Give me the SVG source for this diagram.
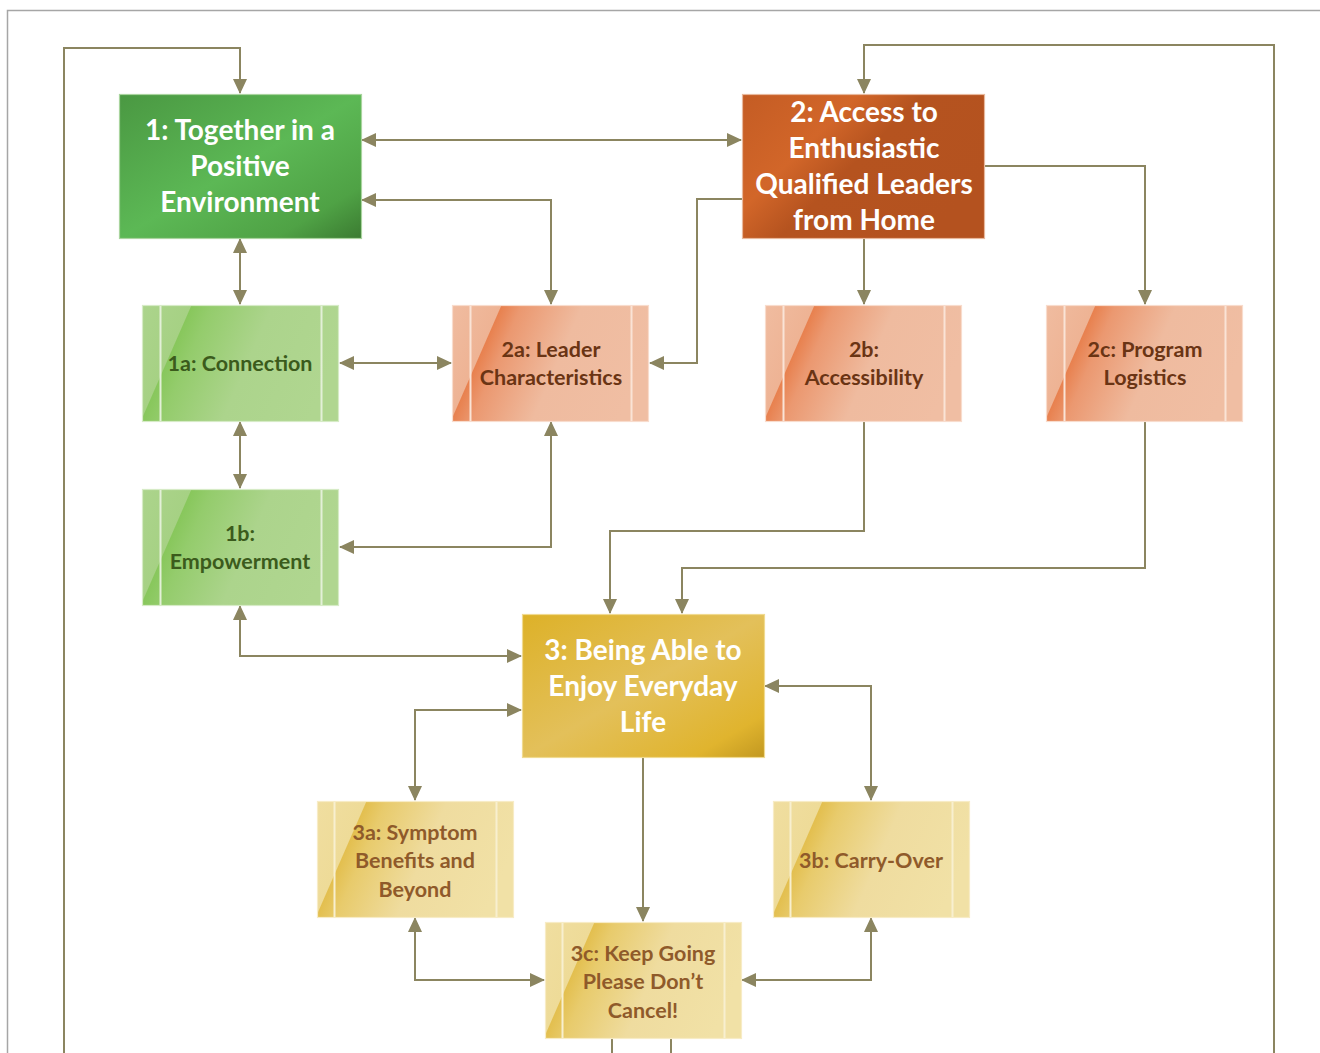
<svg xmlns="http://www.w3.org/2000/svg" width="1320" height="1053" viewBox="0 0 1320 1053">
<defs>
<linearGradient id="gGreen" x1="0" y1="0" x2="1" y2="1">
<stop offset="0" stop-color="#4a9842"/><stop offset="0.5" stop-color="#5cb855"/><stop offset="0.82" stop-color="#4fa245"/><stop offset="1" stop-color="#3b7b31"/>
</linearGradient>
<linearGradient id="gOrange" x1="0" y1="0" x2="1" y2="0.6">
<stop offset="0" stop-color="#c45c24"/><stop offset="0.35" stop-color="#d26629"/><stop offset="0.55" stop-color="#b5531f"/><stop offset="1" stop-color="#b4521f"/>
</linearGradient>
<linearGradient id="gGold" x1="0" y1="0" x2="1" y2="1">
<stop offset="0" stop-color="#ddb128"/><stop offset="0.5" stop-color="#e3c05a"/><stop offset="0.85" stop-color="#e0b42e"/><stop offset="1" stop-color="#c29820"/>
</linearGradient>
<linearGradient id="gLGreen" gradientUnits="userSpaceOnUse" x1="0" y1="0" x2="183" y2="80">
<stop offset="0" stop-color="#acd48c"/><stop offset="0.225" stop-color="#a6d184"/><stop offset="0.23" stop-color="#88c75c"/><stop offset="0.32" stop-color="#94cc6c"/><stop offset="0.6" stop-color="#acd48c"/><stop offset="1" stop-color="#b0d690"/>
</linearGradient>
<linearGradient id="gSalmon" gradientUnits="userSpaceOnUse" x1="0" y1="0" x2="183" y2="80">
<stop offset="0" stop-color="#f0bca0"/><stop offset="0.225" stop-color="#eeb394"/><stop offset="0.23" stop-color="#e8814f"/><stop offset="0.32" stop-color="#eb9870"/><stop offset="0.6" stop-color="#efbb9f"/><stop offset="1" stop-color="#f0bea3"/>
</linearGradient>
<linearGradient id="gYellow" gradientUnits="userSpaceOnUse" x1="0" y1="0" x2="183" y2="80">
<stop offset="0" stop-color="#f0dea0"/><stop offset="0.225" stop-color="#eedb98"/><stop offset="0.23" stop-color="#e3bf4f"/><stop offset="0.32" stop-color="#e8cb6c"/><stop offset="0.6" stop-color="#efdc9f"/><stop offset="1" stop-color="#f1e1a6"/>
</linearGradient>
<marker id="ah" markerUnits="userSpaceOnUse" markerWidth="16" markerHeight="14" refX="14" refY="7" orient="auto-start-reverse" viewBox="0 0 16 14">
<path d="M0,0 L15,7 L0,14 Z" fill="#8b8560"/>
</marker>
</defs>
<style>
.big{font-family:"Lato","Liberation Sans",sans-serif;font-weight:bold;font-size:28px;fill:#ffffff;text-anchor:middle}
.sm{font-family:"Lato","Liberation Sans",sans-serif;font-weight:bold;font-size:21.5px;text-anchor:middle}
.tg{fill:#3b5b1c}.to{fill:#6a3414}.ty{fill:#8f5a2a}
.bb{stroke-width:1.2}
.side{fill:none;stroke-width:2}
.c{fill:none;stroke:#8b8560;stroke-width:2}
</style>
<rect width="1320" height="1053" fill="#ffffff"/>
<path d="M7.5,1053 V10.5 H1320" fill="none" stroke="#a6a6a6" stroke-width="1.5"/>
<g id="connectors">
<path class="c" d="M64,1053 V48 H240 V93" marker-end="url(#ah)"/>
<path class="c" d="M1274,1053 V45 H864 V93" marker-end="url(#ah)"/>
<path class="c" d="M612,1038 V1053"/>
<path class="c" d="M671,1038 V1053"/>
<path class="c" d="M362,140 H741" marker-start="url(#ah)" marker-end="url(#ah)"/>
<path class="c" d="M362,200 H551 V304" marker-start="url(#ah)" marker-end="url(#ah)"/>
<path class="c" d="M742,199 H697 V363 H650" marker-end="url(#ah)"/>
<path class="c" d="M864,238 V304" marker-end="url(#ah)"/>
<path class="c" d="M985,166 H1145 V304" marker-end="url(#ah)"/>
<path class="c" d="M240,239 V304" marker-start="url(#ah)" marker-end="url(#ah)"/>
<path class="c" d="M340,363 H451" marker-start="url(#ah)" marker-end="url(#ah)"/>
<path class="c" d="M240,422 V488" marker-start="url(#ah)" marker-end="url(#ah)"/>
<path class="c" d="M551,422 V547 H340" marker-start="url(#ah)" marker-end="url(#ah)"/>
<path class="c" d="M864,421 V531 H610 V613" marker-end="url(#ah)"/>
<path class="c" d="M1145,421 V568 H682 V613" marker-end="url(#ah)"/>
<path class="c" d="M240,606 V656 H521" marker-start="url(#ah)" marker-end="url(#ah)"/>
<path class="c" d="M521,710 H415 V800" marker-start="url(#ah)" marker-end="url(#ah)"/>
<path class="c" d="M765,686 H871 V800" marker-start="url(#ah)" marker-end="url(#ah)"/>
<path class="c" d="M643,757 V921" marker-end="url(#ah)"/>
<path class="c" d="M415,918 V980 H544" marker-start="url(#ah)" marker-end="url(#ah)"/>
<path class="c" d="M871,918 V980 H742" marker-start="url(#ah)" marker-end="url(#ah)"/>
</g>
<g id="n1">
<rect x="119.5" y="94.5" width="242" height="144" fill="url(#gGreen)" stroke="#a9d49e" class="bb"/>
<text class="big" x="240" y="139.5">1: Together in a</text>
<text class="big" x="240" y="175.5">Positive</text>
<text class="big" x="240" y="211.5">Environment</text>
</g>
<g id="n2">
<rect x="742.5" y="94.5" width="242" height="144" fill="url(#gOrange)" stroke="#e8b89c" class="bb"/>
<text class="big" x="864" y="121.5">2: Access to</text>
<text class="big" x="864" y="157.5">Enthusiastic</text>
<text class="big" x="864" y="193.5">Qualified Leaders</text>
<text class="big" x="864" y="229.5">from Home</text>
</g>
<g id="n1a" transform="translate(142,305)">
<rect x="0.5" y="0.5" width="196" height="116" fill="url(#gLGreen)" stroke="#d6ebc6" class="bb"/>
<path class="side" d="M18.5,1 V116 M179.5,1 V116" stroke="#e3f0d8"/>
<text class="sm tg" x="98" y="65.5">1a: Connection</text>
</g>
<g id="n2a" transform="translate(452,305)">
<rect x="0.5" y="0.5" width="196" height="116" fill="url(#gSalmon)" stroke="#f8dccd" class="bb"/>
<path class="side" d="M18.5,1 V116 M179.5,1 V116" stroke="#fae3d6"/>
<text class="sm to" x="99" y="51.5">2a: Leader</text>
<text class="sm to" x="99" y="79.5">Characteristics</text>
</g>
<g id="n2b" transform="translate(765,305)">
<rect x="0.5" y="0.5" width="196" height="116" fill="url(#gSalmon)" stroke="#f8dccd" class="bb"/>
<path class="side" d="M18.5,1 V116 M179.5,1 V116" stroke="#fae3d6"/>
<text class="sm to" x="99" y="51.5">2b:</text>
<text class="sm to" x="99" y="79.5">Accessibility</text>
</g>
<g id="n2c" transform="translate(1046,305)">
<rect x="0.5" y="0.5" width="196" height="116" fill="url(#gSalmon)" stroke="#f8dccd" class="bb"/>
<path class="side" d="M18.5,1 V116 M179.5,1 V116" stroke="#fae3d6"/>
<text class="sm to" x="99" y="51.5">2c: Program</text>
<text class="sm to" x="99" y="79.5">Logistics</text>
</g>
<g id="n1b" transform="translate(142,489)">
<rect x="0.5" y="0.5" width="196" height="116" fill="url(#gLGreen)" stroke="#d6ebc6" class="bb"/>
<path class="side" d="M18.5,1 V116 M179.5,1 V116" stroke="#e3f0d8"/>
<text class="sm tg" x="98" y="51.5">1b:</text>
<text class="sm tg" x="98" y="79.5">Empowerment</text>
</g>
<g id="n3">
<rect x="522.5" y="614.5" width="242" height="143" fill="url(#gGold)" stroke="#f0da90" class="bb"/>
<text class="big" x="643" y="659.5">3: Being Able to</text>
<text class="big" x="643" y="695.5">Enjoy Everyday</text>
<text class="big" x="643" y="731.5">Life</text>
</g>
<g id="n3a" transform="translate(317,801)">
<rect x="0.5" y="0.5" width="196" height="116" fill="url(#gYellow)" stroke="#f7ecc6" class="bb"/>
<path class="side" d="M17.5,1 V116 M179.5,1 V116" stroke="#f8efcf"/>
<text class="sm ty" x="98" y="38.5">3a: Symptom</text>
<text class="sm ty" x="98" y="66.5">Benefits and</text>
<text class="sm ty" x="98" y="95.5">Beyond</text>
</g>
<g id="n3b" transform="translate(773,801)">
<rect x="0.5" y="0.5" width="196" height="116" fill="url(#gYellow)" stroke="#f7ecc6" class="bb"/>
<path class="side" d="M17.5,1 V116 M179.5,1 V116" stroke="#f8efcf"/>
<text class="sm ty" x="98" y="66.5">3b: Carry-Over</text>
</g>
<g id="n3c" transform="translate(545,922)">
<rect x="0.5" y="0.5" width="196" height="116" fill="url(#gYellow)" stroke="#f7ecc6" class="bb"/>
<path class="side" d="M17.5,1 V116 M179.5,1 V116" stroke="#f8efcf"/>
<text class="sm ty" x="98" y="38.5">3c: Keep Going</text>
<text class="sm ty" x="98" y="66.5">Please Don’t</text>
<text class="sm ty" x="98" y="95.5">Cancel!</text>
</g>
</svg>
